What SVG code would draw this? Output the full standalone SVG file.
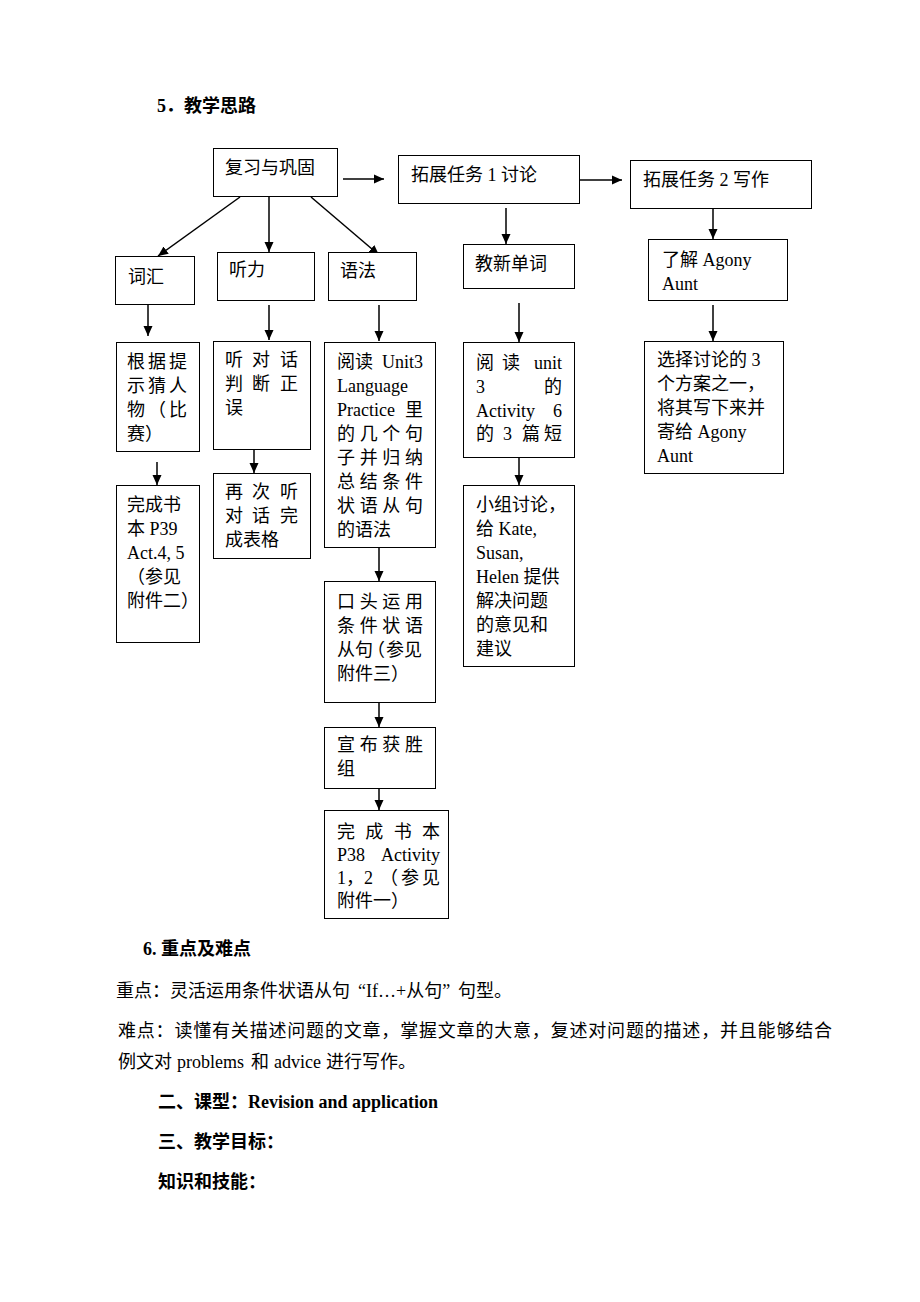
<svg xmlns="http://www.w3.org/2000/svg" width="920" height="1302" viewBox="0 0 920 1302">
<style>
text{font-family:'Liberation Serif','Noto Sans CJK SC',serif;font-size:18px;fill:#000}
.b{font-weight:bold}
.box{fill:#fff;stroke:#000;stroke-width:1}
.c{stroke:#000;stroke-width:1.5;fill:none;marker-end:url(#ah)}
</style>
<defs>
<marker id="ah" viewBox="0 0 10 10" refX="10" refY="5" markerWidth="10" markerHeight="10" markerUnits="userSpaceOnUse" orient="auto">
<path d="M0,0.5 L10,5 L0,9.5 z" fill="#000"/>
</marker>
</defs>
<rect width="920" height="1302" fill="#fff"/>

<text class="b" x="157" y="112">5．<tspan x="184">教学思路</tspan></text>

<g id="connectors">
<line class="c" x1="343" y1="179" x2="384" y2="179"/>
<line class="c" x1="580" y1="180" x2="622" y2="180"/>
<line class="c" x1="240" y1="197" x2="158" y2="256"/>
<line class="c" x1="269" y1="197" x2="269" y2="252"/>
<line class="c" x1="311" y1="197" x2="379" y2="255"/>
<line class="c" x1="506" y1="208" x2="506" y2="244"/>
<line class="c" x1="713" y1="208" x2="713" y2="239"/>
<line class="c" x1="713" y1="305" x2="713" y2="341"/>
<line class="c" x1="519" y1="303" x2="519" y2="342"/>
<line class="c" x1="519" y1="457" x2="519" y2="485"/>
<line class="c" x1="148" y1="305" x2="148" y2="336"/>
<line class="c" x1="157" y1="462" x2="157" y2="485"/>
<line class="c" x1="269" y1="305" x2="269" y2="340"/>
<line class="c" x1="254" y1="449" x2="254" y2="473"/>
<line class="c" x1="379" y1="305" x2="379" y2="341"/>
<line class="c" x1="379" y1="547" x2="379" y2="581"/>
<line class="c" x1="379" y1="702" x2="379" y2="727"/>
<line class="c" x1="379" y1="788" x2="379" y2="810"/>
</g>

<g id="n-review">
<rect class="box" x="213.5" y="148.5" width="124" height="48"/>
<text x="225" y="174">复习与巩固</text>
</g>
<g id="n-task1">
<rect class="box" x="398.5" y="155.5" width="181" height="48"/>
<text x="411" y="181">拓展任务 1 讨论</text>
</g>
<g id="n-task2">
<rect class="box" x="630.5" y="160.5" width="181" height="48"/>
<text x="643" y="186">拓展任务 2 写作</text>
</g>
<g id="n-vocab">
<rect class="box" x="115.5" y="256.5" width="79" height="48"/>
<text x="128" y="283">词汇</text>
</g>
<g id="n-listen">
<rect class="box" x="217.5" y="252.5" width="97" height="48"/>
<text x="229" y="276">听力</text>
</g>
<g id="n-grammar">
<rect class="box" x="328.5" y="252.5" width="88" height="48"/>
<text x="340" y="277">语法</text>
</g>
<g id="n-newwords">
<rect class="box" x="463.5" y="244.5" width="111" height="44"/>
<text x="475" y="270">教新单词</text>
</g>
<g id="n-agony">
<rect class="box" x="648.5" y="239.5" width="139" height="61"/>
<text x="662" y="266">了解 Agony</text>
<text x="662" y="290">Aunt</text>
</g>
<g id="n-choose">
<rect class="box" x="644.5" y="341.5" width="139" height="132"/>
<text x="657" y="366">选择讨论的 3</text>
<text x="657" y="390">个方案之一，</text>
<text x="657" y="414">将其写下来并</text>
<text x="657" y="438">寄给 Agony</text>
<text x="657" y="462">Aunt</text>
</g>
<g id="n-guess">
<rect class="box" x="116.5" y="342.5" width="83" height="109"/>
<text x="127 148 169" y="368">根据提</text>
<text x="127 148 169" y="392">示猜人</text>
<text x="127 148 169" y="416">物（比</text>
<text x="127" y="440">赛）</text>
</g>
<g id="n-p39">
<rect class="box" x="116.5" y="485.5" width="83" height="157"/>
<text x="127" y="511">完成书</text>
<text x="127" y="535">本 P39</text>
<text x="127" y="559">Act.4, 5</text>
<text x="127" y="583">（参见</text>
<text x="127" y="607">附件二）</text>
</g>
<g id="n-dialog">
<rect class="box" x="213.5" y="341.5" width="97" height="108"/>
<text x="225 252 280" y="366">听对话</text>
<text x="225 252 280" y="390">判断正</text>
<text x="225" y="414">误</text>
</g>
<g id="n-table">
<rect class="box" x="213.5" y="473.5" width="97" height="85"/>
<text x="225 252 280" y="498">再次听</text>
<text x="225 252 280" y="522">对话完</text>
<text x="225" y="546">成表格</text>
</g>
<g id="n-read3">
<rect class="box" x="324.5" y="342.5" width="111" height="205"/>
<text x="337" y="368">阅读<tspan x="382">Unit3</tspan></text>
<text x="337" y="392">Language</text>
<text x="337" y="416">Practice<tspan x="405">里</tspan></text>
<text x="337 359.7 382.3 405" y="440">的几个句</text>
<text x="337 359.7 382.3 405" y="464">子并归纳</text>
<text x="337 359.7 382.3 405" y="488">总结条件</text>
<text x="337 359.7 382.3 405" y="512">状语从句</text>
<text x="337" y="536">的语法</text>
</g>
<g id="n-oral">
<rect class="box" x="324.5" y="581.5" width="111" height="121"/>
<text x="337 359.7 382.3 405" y="608">口头运用</text>
<text x="337 359.7 382.3 405" y="632">条件状语</text>
<text x="337 355 367 386 404" y="656">从句（参见</text>
<text x="337" y="680">附件三）</text>
</g>
<g id="n-winner">
<rect class="box" x="324.5" y="727.5" width="111" height="61"/>
<text x="337 359.7 382.3 405" y="751">宣布获胜</text>
<text x="337" y="775">组</text>
</g>
<g id="n-p38">
<rect class="box" x="324.5" y="810.5" width="124" height="108"/>
<text x="337 365.3 393.7 422" y="838">完成书本</text>
<text x="337" y="861">P38<tspan x="381">Activity</tspan></text>
<text x="337 346 364 380 401 422" y="884">1，2（参见</text>
<text x="337" y="907">附件一）</text>
</g>
<g id="n-readunit">
<rect class="box" x="463.5" y="342.5" width="111" height="115"/>
<text x="476 502" y="369">阅读<tspan x="534">unit</tspan></text>
<text x="476" y="393">3<tspan x="544">的</tspan></text>
<text x="476" y="417">Activity<tspan x="553">6</tspan></text>
<text x="476" y="440">的<tspan x="503">3</tspan><tspan x="522">篇</tspan><tspan x="544">短</tspan></text>
</g>
<g id="n-group">
<rect class="box" x="463.5" y="485.5" width="111" height="181"/>
<text x="476" y="511">小组讨论，</text>
<text x="476" y="535">给 Kate,</text>
<text x="476" y="559">Susan,</text>
<text x="476" y="583">Helen 提供</text>
<text x="476" y="607">解决问题</text>
<text x="476" y="631">的意见和</text>
<text x="476" y="655">建议</text>
</g>

<g id="body-text">
<text class="b" x="143" y="955">6. 重点及难点</text>
<text x="116" y="997">重点：灵活运用条件状语从句<tspan x="358">“If…+从句”</tspan><tspan x="458">句型。</tspan></text>
<text x="118" y="1037" textLength="714" lengthAdjust="spacing">难点：读懂有关描述问题的文章，掌握文章的大意，复述对问题的描述，并且能够结合</text>
<text x="118" y="1068">例文对<tspan x="177">problems</tspan><tspan x="251">和</tspan><tspan x="274">advice</tspan><tspan x="326">进行写作。</tspan></text>
<text class="b" x="158" y="1108">二、课型：Revision and application</text>
<text class="b" x="158" y="1148">三、教学目标：</text>
<text class="b" x="158" y="1188">知识和技能：</text>
</g>
</svg>
